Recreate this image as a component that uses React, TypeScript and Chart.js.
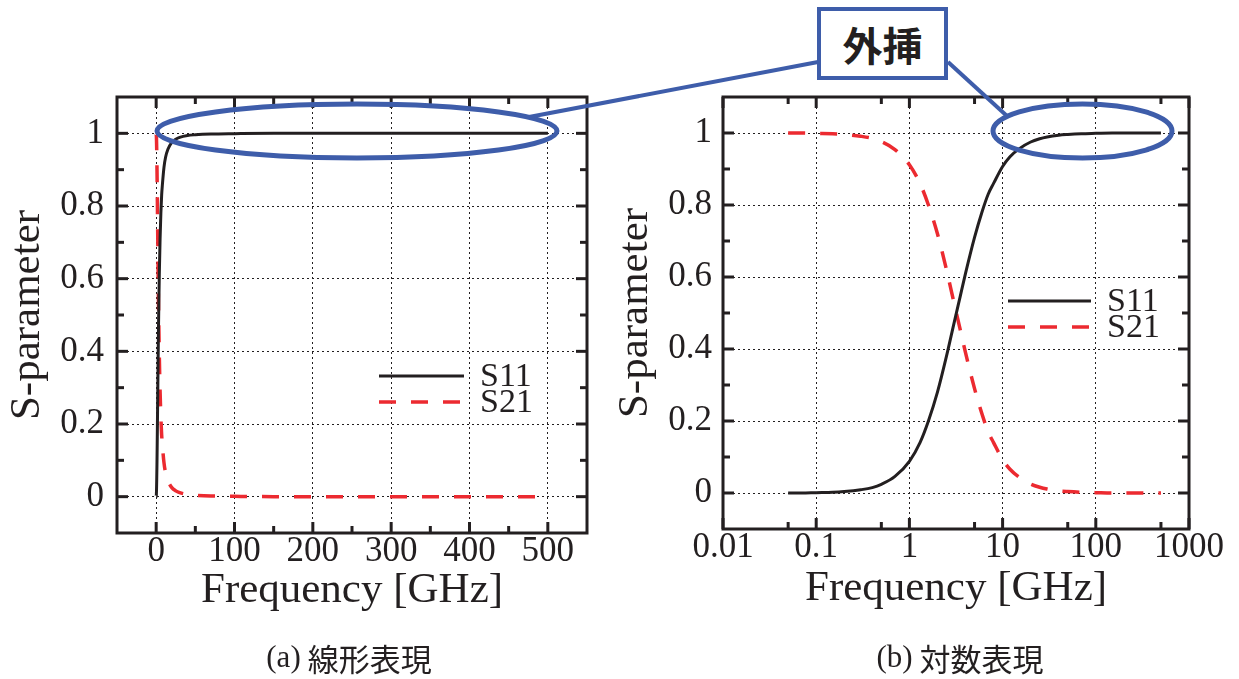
import React, { useEffect, useRef } from 'react';
import { Chart, registerables } from 'chart.js';

Chart.register(...registerables);

// ---------------- data ----------------
const FREQ_GHZ = [
  0.05, 0.07, 0.1, 0.15, 0.2, 0.3, 0.4, 0.5, 0.7, 1,
  1.3, 1.6, 2, 2.5, 3, 3.5, 4, 5, 6, 7,
  8, 10, 12, 15, 20, 25, 30, 40, 50, 70,
  100, 150, 200, 300, 400, 500,
];
const S11 = [
  0.0, 0.0, 0.001, 0.002, 0.004, 0.009, 0.015, 0.024, 0.046, 0.088,
  0.14, 0.2, 0.28, 0.38, 0.47, 0.545, 0.61, 0.71, 0.78, 0.83,
  0.86, 0.907, 0.934, 0.956, 0.975, 0.984, 0.989, 0.994, 0.996, 0.998,
  0.999, 1.0, 1.0, 1.0, 1.0, 1.0,
];
const S21 = [
  1.0, 1.0, 0.999, 0.998, 0.996, 0.991, 0.985, 0.976, 0.954, 0.912,
  0.86, 0.8, 0.72, 0.62, 0.53, 0.455, 0.39, 0.29, 0.22, 0.17,
  0.14, 0.093, 0.066, 0.044, 0.025, 0.016, 0.011, 0.006, 0.004, 0.002,
  0.001, 0.0, 0.0, 0.0, 0.0, 0.0,
];
const SERIES_LABELS = ['S11', 'S21'];

const LIN_X_TICKS = [0, 100, 200, 300, 400, 500];
const LIN_X_MINOR = [50, 150, 250, 350, 450];
const LOG_X_TICKS = [0.01, 0.1, 1, 10, 100, 1000];
const LOG_X_MINOR = [0.05, 0.5, 5, 50, 500];
const Y_TICKS = [0, 0.2, 0.4, 0.6, 0.8, 1];
const Y_MINOR = [0.1, 0.3, 0.5, 0.7, 0.9];

const X_TITLE = 'Frequency [GHz]';
const Y_TITLE = 'S-parameter';
const CAPTION_A = ['(a)', '線形表現'];
const CAPTION_B = ['(b)', '対数表現'];
const CALLOUT = '外挿';

// ---------------- styles ----------------
const INK = '#231f20';
const RED = '#ec2a30';
const BLUE = '#3e5daa';
const SERIF = '"Liberation Serif", "Times New Roman", serif';
const CJK = '"Noto Sans CJK JP", "Noto Sans", sans-serif';
const H = 679;

const framePlugin = {
  id: 'frame',
  afterDraw(chart: any, _args: any, opts: any) {
    const { ctx, chartArea: a, scales } = chart;
    const xs = scales.x;
    const ys = scales.y;
    ctx.save();
    ctx.setLineDash([]);
    ctx.strokeStyle = INK;
    ctx.lineWidth = 3;
    ctx.lineCap = 'butt';
    const seg = (x1: number, y1: number, x2: number, y2: number) => {
      ctx.beginPath();
      ctx.moveTo(x1, y1);
      ctx.lineTo(x2, y2);
      ctx.stroke();
    };
    const xTicks = (vals: number[], len: number) => {
      vals.forEach((v) => {
        const px = xs.getPixelForValue(v);
        seg(px, a.bottom, px, a.bottom - len);
        seg(px, a.top, px, a.top + len);
      });
    };
    const yTicks = (vals: number[], len: number) => {
      vals.forEach((v) => {
        const py = ys.getPixelForValue(v);
        seg(a.left, py, a.left + len, py);
        seg(a.right, py, a.right - len, py);
      });
    };
    xTicks(opts.xMajor, 11);
    xTicks(opts.xMinor, 7);
    yTicks(opts.yMajor, 11);
    yTicks(opts.yMinor, 7);
    ctx.strokeRect(a.left, a.top, a.right - a.left, a.bottom - a.top);

    // legend
    const lg = opts.legend;
    ctx.lineWidth = 3;
    ctx.strokeStyle = INK;
    seg(lg.x1, lg.y1, lg.x2, lg.y1);
    ctx.strokeStyle = RED;
    ctx.lineWidth = 3.5;
    ctx.setLineDash([17, 15]);
    seg(lg.x1, lg.y2, lg.x2, lg.y2);
    ctx.setLineDash([]);
    ctx.fillStyle = INK;
    ctx.font = `34px ${SERIF}`;
    ctx.textAlign = 'left';
    ctx.textBaseline = 'middle';
    ctx.fillText(SERIES_LABELS[0], lg.tx, lg.y1 + 1);
    ctx.fillText(SERIES_LABELS[1], lg.tx, lg.y2 + 1);
    ctx.restore();
  },
};

type PanelKind = 'linear' | 'log';

function buildConfig(kind: PanelKind): any {
  const isLog = kind === 'log';
  const pts = (ys: number[]) => FREQ_GHZ.map((f, i) => ({ x: f, y: ys[i] }));
  const tickFont = { family: SERIF, size: 35 };
  const titleFont = { family: SERIF, size: 43 };
  return {
    type: 'line',
    data: {
      datasets: [
        {
          label: SERIES_LABELS[0],
          data: pts(S11),
          borderColor: INK,
          borderWidth: 3,
          pointRadius: 0,
          fill: false,
          cubicInterpolationMode: 'monotone',
        },
        {
          label: SERIES_LABELS[1],
          data: pts(S21),
          borderColor: RED,
          borderWidth: 3.5,
          borderDash: [17, 15],
          pointRadius: 0,
          fill: false,
          cubicInterpolationMode: 'monotone',
        },
      ],
    },
    options: {
      responsive: false,
      maintainAspectRatio: false,
      animation: false,
      events: [],
      layout: {
        padding: isLog
          ? { left: 0, top: 97, right: 50, bottom: 0 }
          : { left: 0, top: 97, right: 23, bottom: 0 },
      },
      scales: {
        x: {
          type: isLog ? 'logarithmic' : 'linear',
          min: isLog ? 0.01 : -50,
          max: isLog ? 1000 : 550,
          afterBuildTicks: (s: any) => {
            s.ticks = (isLog ? LOG_X_TICKS : LIN_X_TICKS).map((value) => ({ value }));
          },
          afterFit: (s: any) => {
            s.height = isLog ? H - 529 : H - 533;
          },
          grid: { color: INK, lineWidth: 1, drawTicks: false },
          border: { display: false, dash: [2, 3] },
          ticks: {
            font: tickFont,
            color: INK,
            padding: -2,
            maxRotation: 0,
            autoSkip: false,
            callback: (v: any) => String(v),
          },
          title: {
            display: true,
            text: X_TITLE,
            font: titleFont,
            color: INK,
            padding: { top: 0, bottom: isLog ? 64 : 62 },
          },
        },
        y: {
          type: 'linear',
          min: -0.1,
          max: 1.1,
          afterBuildTicks: (s: any) => {
            s.ticks = Y_TICKS.map((value) => ({ value }));
          },
          afterFit: (s: any) => {
            s.width = isLog ? 113 : 117;
          },
          grid: { color: INK, lineWidth: 1, drawTicks: false },
          border: { display: false, dash: [2, 3] },
          ticks: {
            font: tickFont,
            color: INK,
            padding: isLog ? 11 : 13,
            autoSkip: false,
            callback: (v: any) => String(v),
          },
          title: {
            display: true,
            text: Y_TITLE,
            font: titleFont,
            color: INK,
            padding: { top: isLog ? 0 : 2, bottom: 0 },
          },
        },
      },
      plugins: {
        legend: { display: false },
        tooltip: { enabled: false },
        frame: {
          xMajor: isLog ? LOG_X_TICKS : LIN_X_TICKS,
          xMinor: isLog ? LOG_X_MINOR : LIN_X_MINOR,
          yMajor: Y_TICKS,
          yMinor: Y_MINOR,
          legend: isLog
            ? { x1: 398, x2: 481, y1: 301, y2: 327, tx: 497 }
            : { x1: 379, x2: 464, y1: 376, y2: 402, tx: 480 },
        },
      },
    },
    plugins: [framePlugin],
  };
}

function Panel({ kind, left, width }: { kind: PanelKind; left: number; width: number }) {
  const ref = useRef<HTMLCanvasElement | null>(null);
  useEffect(() => {
    if (!ref.current) return;
    const chart = new Chart(ref.current, buildConfig(kind));
    return () => chart.destroy();
  }, [kind]);
  return (
    <canvas
      ref={ref}
      width={width}
      height={H}
      style={{ position: 'absolute', left, top: 0, width, height: H }}
    />
  );
}

function Caption({ parts, cx }: { parts: string[]; cx: number }) {
  return (
    <div
      style={{
        position: 'absolute',
        left: cx - 200,
        width: 400,
        top: 637,
        height: 40,
        display: 'flex',
        justifyContent: 'center',
        alignItems: 'center',
        color: INK,
        whiteSpace: 'nowrap',
      }}
    >
      <span style={{ fontFamily: SERIF, fontSize: 31, marginRight: 7 }}>{parts[0]}</span>
      <span style={{ fontFamily: CJK, fontSize: 31 }}>{parts[1]}</span>
    </div>
  );
}

export default function App() {
  return (
    <div
      style={{
        position: 'fixed',
        left: 0,
        top: 0,
        width: 1239,
        height: H,
        background: '#fff',
        overflow: 'hidden',
      }}
    >
      <Panel kind="linear" left={0} width={610} />
      <Panel kind="log" left={610} width={629} />
      <svg
        width={1239}
        height={H}
        style={{ position: 'absolute', left: 0, top: 0, pointerEvents: 'none' }}
      >
        <ellipse cx={357} cy={131} rx={200} ry={27} fill="none" stroke={BLUE} strokeWidth={5} />
        <ellipse cx={1082.5} cy={131} rx={89.5} ry={27} fill="none" stroke={BLUE} strokeWidth={5} />
        <line x1={818} y1={62} x2={529} y2={117} stroke={BLUE} strokeWidth={4} />
        <line x1={948} y1={62} x2={1007} y2={116} stroke={BLUE} strokeWidth={4} />
      </svg>
      <div
        style={{
          position: 'absolute',
          left: 817,
          top: 7,
          width: 131,
          height: 73,
          boxSizing: 'border-box',
          border: `4px solid ${BLUE}`,
          background: '#fff',
          display: 'flex',
          alignItems: 'center',
          justifyContent: 'center',
          fontFamily: CJK,
          fontWeight: 700,
          fontSize: 40,
          color: INK,
          lineHeight: 1,
        }}
      >
        {CALLOUT}
      </div>
      <Caption parts={CAPTION_A} cx={349} />
      <Caption parts={CAPTION_B} cx={960} />
    </div>
  );
}
